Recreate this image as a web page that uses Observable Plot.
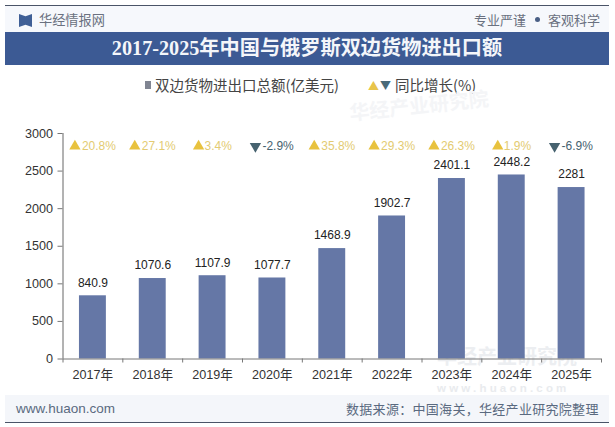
<!DOCTYPE html>
<html><head><meta charset="utf-8">
<script src="https://cdn.jsdelivr.net/npm/d3@7"></script>
<script src="https://cdn.jsdelivr.net/npm/@observablehq/plot@0.6"></script>
<style>
html,body{margin:0;padding:0;background:#fff;width:615px;height:427px;overflow:hidden;font-family:"Noto Sans CJK SC","Liberation Sans",sans-serif}
#wrap{position:relative;width:615px;height:427px}
.a{position:absolute;white-space:nowrap}
svg{position:absolute;left:0;top:0}
</style></head><body>
<div id="wrap">
<div class="a" style="left:5px;top:6px;width:604px;height:26px;background:#f6f8fc"></div>
<div class="a" style="left:5px;top:5px;width:604px;height:1px;background:#4a5468"></div>
<div class="a" style="left:19px;top:14px;width:13px;height:13px;background:#3f5f96;clip-path:polygon(0 0,50% 18%,100% 0,100% 100%,50% 82%,0 100%)"></div>
<div class="a" style="left:39px;top:10px;font-size:13.2px;line-height:20px;color:#6a7180">华经情报网</div>
<div class="a" style="left:474px;top:10px;font-size:13px;line-height:20px;color:#6a7180">专业严谨</div>
<div class="a" style="left:535px;top:17px;width:5px;height:5px;border-radius:50%;background:#4a5f85"></div>
<div class="a" style="left:548px;top:10px;font-size:13px;line-height:20px;color:#6a7180">客观科学</div>
<div class="a" style="left:5px;top:32px;width:604px;height:33px;background:#3c5a94;color:#f4f6fa;font:bold 20.2px/33px 'Liberation Serif','Noto Sans CJK SC';text-align:center">2017-2025年中国与俄罗斯双边货物进出口额</div>
<div class="a" style="left:145px;top:81px;width:6px;height:8px;background:#808592"></div>
<div class="a" style="left:155px;top:74px;font-size:14.5px;line-height:22px;color:#444">双边货物进出口总额(亿美元)</div>
<div class="a" style="left:368px;top:74px;font-size:11px;line-height:22px;color:#e8c44a">▲</div>
<div class="a" style="left:380px;top:74px;font-size:11px;line-height:22px;color:#4a6a78">▼</div>
<div class="a" style="left:395px;top:74px;font-size:14.5px;line-height:22px;color:#444">同比增长(%)</div>
<div class="a" style="left:349px;top:92px;font-size:20px;line-height:26px;font-weight:bold;color:#f4f5f7;transform:rotate(-6deg)">华经产业研究院</div>
<div class="a" style="left:437px;top:344px;font-size:20px;line-height:24px;font-weight:bold;color:#eceef1">华经产业研究院</div>
<div class="a" style="left:437px;top:381px;font:bold 11.5px/14px 'Liberation Sans';color:#e9ebee;letter-spacing:3.2px">www.huaon.com</div>
<div class="a" style="left:5px;top:395px;width:604px;height:27px;background:#f4f6fa"></div>
<div class="a" style="left:5px;top:422px;width:604px;height:1px;background:#4a5468"></div>
<div class="a" style="left:16px;top:401px;font:13.5px/16px 'Liberation Sans';color:#5a6a80">www.huaon.com</div>
<div class="a" style="left:346px;top:400px;font-size:13px;line-height:18px;color:#5a6a80;letter-spacing:.3px">数据来源：中国海关，华经产业研究院整理</div>
</div>
<script>
const years = [2017,2018,2019,2020,2021,2022,2023,2024,2025];
const totals = [840.9,1070.6,1107.9,1077.7,1468.9,1902.7,2401.1,2448.2,2281];
const growth = [20.8,27.1,3.4,-2.9,35.8,29.3,26.3,1.9,-6.9];
const yTicks = [0,500,1000,1500,2000,2500,3000];
const edges = [2016.5,2017.5,2018.5,2019.5,2020.5,2021.5,2022.5,2023.5,2024.5,2025.5];
const rows = years.map((year,i)=>({year,total:totals[i],growth:growth[i]}));
const upLong = rows.filter(d=>d.growth>=10), upShort = rows.filter(d=>d.growth>=0&&d.growth<10), down = rows.filter(d=>d.growth<0);
const GOLD="#e8c23e", GOLDTXT="#e3cb72", TEAL="#46626f", BAR="#6577a6";
const growthY = 2830;
const chart = Plot.plot({
  width:615,height:427,
  marginTop:133,marginBottom:68.5,marginLeft:62.5,marginRight:14,
  style:{background:"transparent",fontFamily:"'Liberation Sans','Noto Sans CJK SC',sans-serif",overflow:"visible"},
  x:{domain:[2016.5,2025.5]},
  y:{domain:[0,3000]},
  marks:[
    Plot.rectY(rows,{x1:d=>d.year-0.225,x2:d=>d.year+0.225,y1:0,y2:"total",fill:BAR,style:{filter:"drop-shadow(3px 0 2px rgba(90,90,90,.45))"}}),
    Plot.ruleX([2016.5],{stroke:"#666",strokeWidth:1}),
    Plot.ruleY([0],{stroke:"#777",strokeWidth:1}),
    Plot.ruleX(edges,{y1:0,y2:0,insetBottom:-4,stroke:"#777",strokeWidth:1}),
    Plot.axisY({ticks:yTicks,tickSize:5,tickPadding:5,fontSize:12.6,stroke:"#777",color:"#333",label:null,tickFormat:d=>String(d)}),
    Plot.axisX({ticks:years,tickSize:0,tickPadding:11,fontSize:12.6,color:"#333",label:null,tickFormat:d=>d+"年",fontFamily:"'Liberation Sans','Noto Sans CJK SC'"}),
    Plot.text(rows,{x:"year",y:"total",text:d=>String(d.total),dy:-13,fontSize:12,fill:"#222"}),
    Plot.dot(upLong,{x:"year",y:growthY,symbol:"triangle",r:4.2,fill:GOLD,dx:-18}),
    Plot.dot(upShort,{x:"year",y:growthY,symbol:"triangle",r:4.2,fill:GOLD,dx:-14}),
    Plot.dot(down,{x:"year",y:growthY,symbol:"triangle",r:4.2,fill:TEAL,dx:-17,rotate:180}),
    Plot.text(upLong,{x:"year",y:growthY,text:d=>d.growth+"%",textAnchor:"start",dx:-11,fontSize:12,fill:GOLDTXT}),
    Plot.text(upShort,{x:"year",y:growthY,text:d=>d.growth+"%",textAnchor:"start",dx:-8,fontSize:12,fill:GOLDTXT}),
    Plot.text(down,{x:"year",y:growthY,text:d=>d.growth+"%",textAnchor:"start",dx:-10,fontSize:12,fill:TEAL})
  ]
});
document.getElementById("wrap").appendChild(chart);
</script>
</body></html>
